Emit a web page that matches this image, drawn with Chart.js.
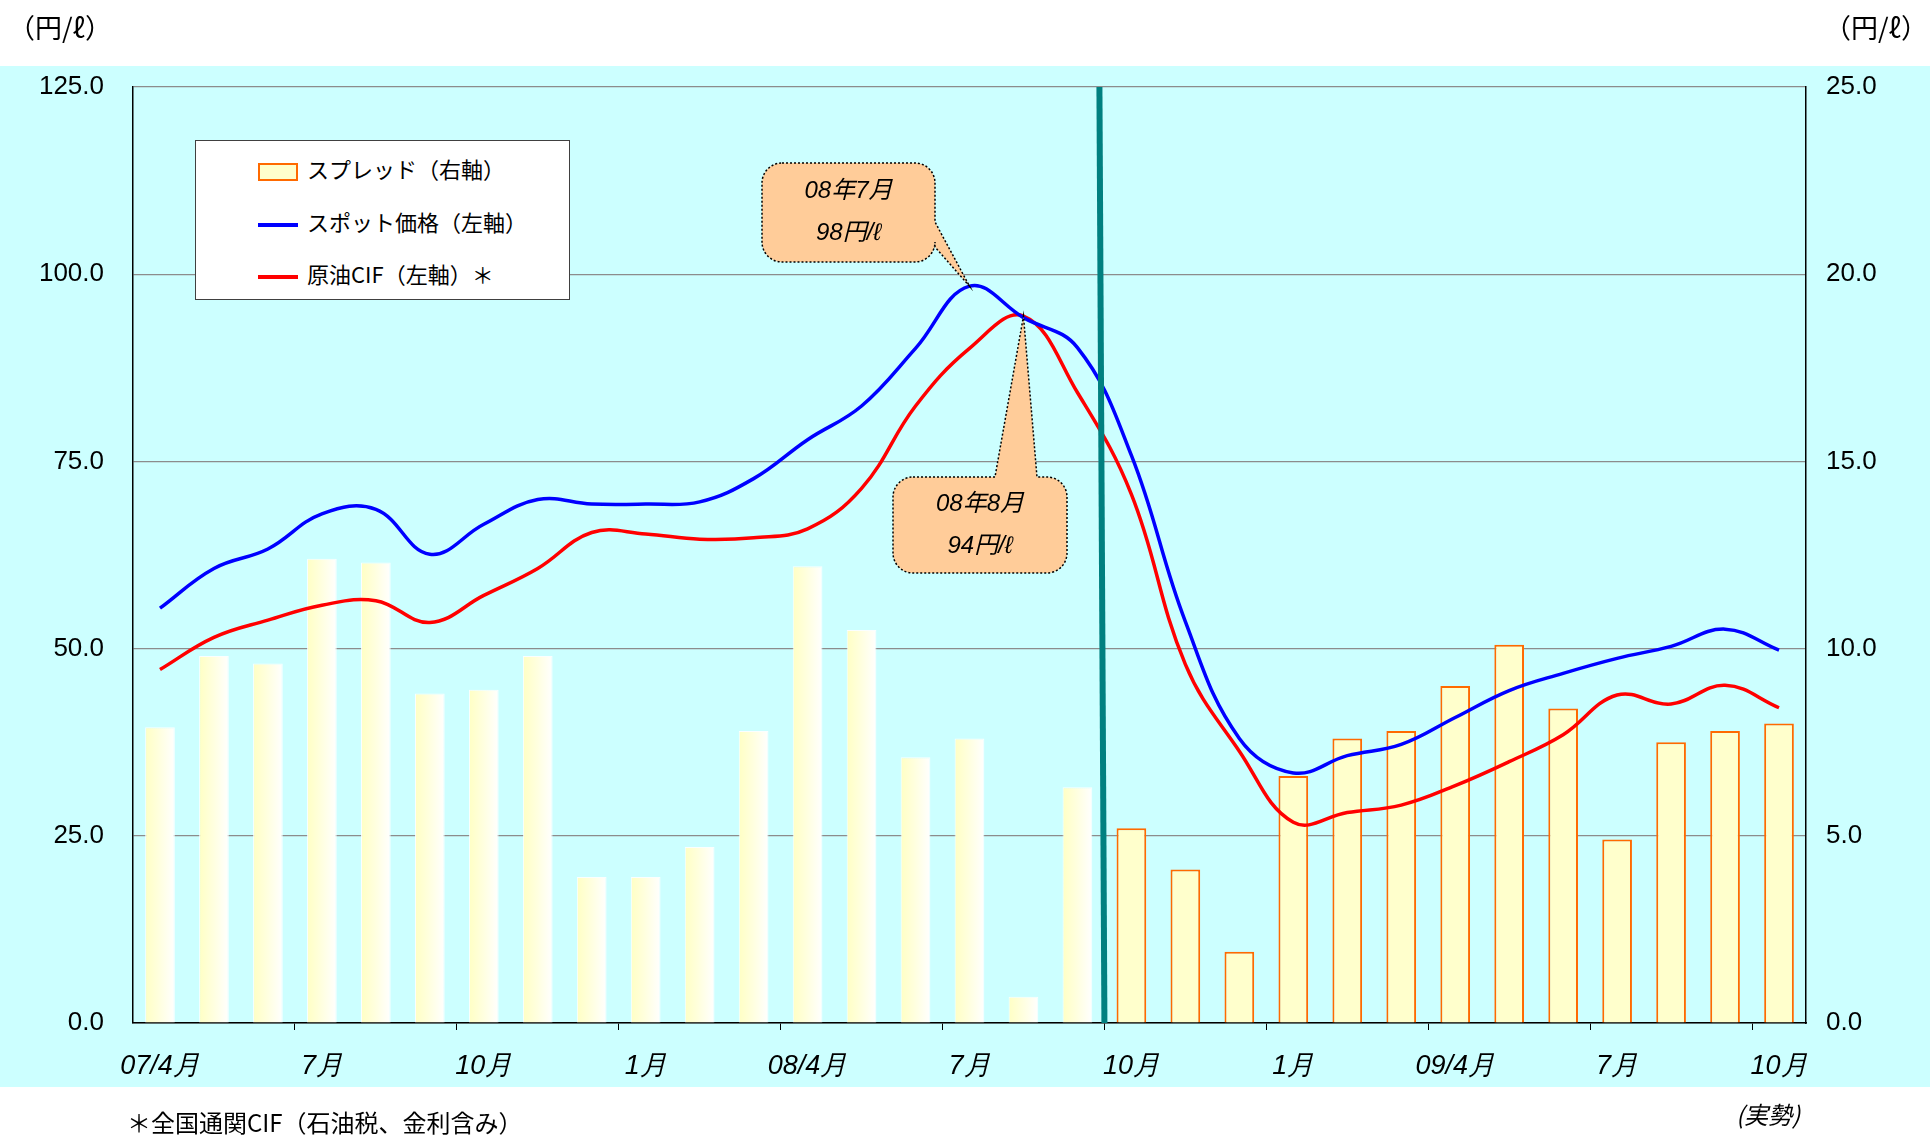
<!DOCTYPE html>
<html lang="ja">
<head>
<meta charset="utf-8">
<title>スプレッドとスポット価格</title>
<script src="https://cdn.jsdelivr.net/npm/chart.js@4.4.1/dist/chart.umd.min.js"></script>
<style>
  html, body { margin: 0; padding: 0; background: #fff; }
  #wrap { position: relative; width: 1930px; height: 1137px; overflow: hidden;
          font-family: "Noto Sans CJK JP", sans-serif; color: #000; }
  #band { position: absolute; left: 0; top: 66px; width: 1930px; height: 1021px; background: #CCFFFF; }
  #chart { position: absolute; left: 0; top: 0; }
  .unit { position: absolute; top: 8px; font-size: 27px; line-height: 38px; }
  #legend { position: absolute; left: 195px; top: 140px; width: 373px; height: 158px;
            background: #fff; border: 1.5px solid #404040; }
  #legend .item { position: absolute; left: 62px; height: 30px; line-height: 30px; font-size: 22px; white-space: nowrap; }
  #legend .sw { display: inline-block; width: 40px; vertical-align: middle; margin-right: 9px; box-sizing: border-box; }
  #note { position: absolute; left: 127px; top: 1106px; font-size: 24px; line-height: 32px; }
  #jisei { position: absolute; left: 1736px; top: 1098px; font-size: 24px; line-height: 32px; font-style: italic; }
</style>
</head>
<body>
<div id="wrap">
  <div id="band"></div>
  <canvas id="chart" width="1930" height="1137"></canvas>
  <div class="unit" style="left:8px">（円/ℓ）</div>
  <div class="unit" style="left:1824px">（円/ℓ）</div>
  <div id="legend"></div>
  <div id="note">＊全国通関CIF（石油税、金利含み）</div>
  <div id="jisei">(実勢)</div>
</div>
<script>
// 07/4月 〜 09/10月 の月次
const months = ['07/4月', '5月', '6月', '7月', '8月', '9月', '10月', '11月', '12月', '1月', '2月', '3月',
                '08/4月', '5月', '6月', '7月', '8月', '9月', '10月', '11月', '12月', '1月', '2月', '3月',
                '09/4月', '5月', '6月', '7月', '8月', '9月', '10月'];

// スプレッド（右軸, 円/ℓ）
const spread = [7.9, 9.8, 9.6, 12.4, 12.3, 8.8, 8.9, 9.8, 3.9, 3.9, 4.7, 7.8,
                12.2, 10.5, 7.1, 7.6, 0.7, 6.3, 5.2, 4.1, 1.9, 6.6, 7.6, 7.8,
                9.0, 10.1, 8.4, 4.9, 7.5, 7.8, 8.0];

// スポット価格（左軸, 円/ℓ）
const spot = [55.4, 60.7, 63.3, 68.0, 68.6, 62.6, 66.6, 69.9, 69.3, 69.3, 69.6, 72.7,
              77.9, 82.4, 90.1, 98.4, 94.2, 90.2, 75.8, 53.6, 38.0, 33.4, 35.7, 37.2,
              40.8, 44.4, 46.7, 48.7, 50.3, 52.6, 49.8];

// 原油CIF（左軸, 円/ℓ）
const cif = [47.2, 51.5, 53.8, 55.8, 56.4, 53.5, 57.1, 60.7, 65.5, 65.3, 64.6, 64.8,
             66.0, 71.4, 82.4, 90.1, 94.4, 84.2, 70.6, 47.9, 36.3, 26.8, 28.1, 29.1,
             31.7, 34.9, 38.5, 43.8, 42.6, 45.1, 42.1];

const seriesNames = ['スプレッド（右軸）', 'スポット価格（左軸）', '原油CIF（左軸）＊'];
const leftTicks = [0, 25, 50, 75, 100, 125];
const rightTicks = [0, 5, 10, 15, 20, 25];

// 10月から実勢
const actualStart = 18;

// 吹き出し
const notes = [
  { text: ['08年7月', '98円/ℓ'], ds: 1, idx: 15, box: [762, 163, 935, 262], side: 'right', base: [222, 247] },
  { text: ['08年8月', '94円/ℓ'], ds: 2, idx: 16, box: [893, 477, 1067, 573], side: 'top', base: [995, 1037] }
];

const numFont = '"Liberation Sans Narrow", "Liberation Sans", sans-serif';
const jpFont = '"Noto Sans CJK JP", sans-serif';

// 凡例
const legendEl = document.getElementById('legend');
const swatches = [
  'height:18px;background:#FFFFCC;border:2px solid #FF6A00;',
  'height:4px;background:#0000FF;',
  'height:4px;background:#FF0000;'
];
[12, 65, 117].forEach((top, i) => {
  const d = document.createElement('div');
  d.className = 'item';
  d.style.top = top + 'px';
  d.innerHTML = '<span class="sw" style="' + swatches[i] + '"></span>' + seriesNames[i];
  legendEl.appendChild(d);
});

function barFill(ctx) {
  const i = ctx.dataIndex;
  const chart = ctx.chart;
  if (i >= actualStart || !chart.chartArea) return '#FFFFCC';
  const xs = chart.scales.x;
  const cx = xs.getPixelForValue(i);
  const w = xs.width / months.length * 0.55;
  const g = chart.ctx.createLinearGradient(cx - w / 2, 0, cx + w / 2, 0);
  g.addColorStop(0, '#FFFFC4');
  g.addColorStop(0.45, '#FFFFDD');
  g.addColorStop(1, '#FFFFFF');
  return g;
}

const extras = {
  id: 'extras',
  afterDatasetsDraw(chart) {
    const c = chart.ctx;
    const xs = chart.scales.x;
    const area = chart.chartArea;

    // 実勢との境目
    const bx = (xs.getPixelForValue(actualStart - 1) + xs.getPixelForValue(actualStart)) / 2;
    c.save();
    c.strokeStyle = '#008080';
    c.lineWidth = 6;
    c.beginPath();
    c.moveTo(bx - 5, area.top);
    c.lineTo(bx, area.bottom);
    c.stroke();
    c.restore();

    notes.forEach(n => {
      const pt = chart.getDatasetMeta(n.ds).data[n.idx];
      const [l, t, r, b] = n.box;
      const rad = 20;
      c.save();
      c.beginPath();
      c.moveTo(l + rad, t);
      if (n.side === 'top') {
        c.lineTo(n.base[0], t);
        c.lineTo(pt.x, pt.y);
        c.lineTo(n.base[1], t);
      }
      c.lineTo(r - rad, t);
      c.arcTo(r, t, r, t + rad, rad);
      if (n.side === 'right') {
        c.lineTo(r, n.base[0]);
        c.lineTo(pt.x, pt.y);
        c.lineTo(r, n.base[1]);
      }
      c.lineTo(r, b - rad);
      c.arcTo(r, b, r - rad, b, rad);
      c.lineTo(l + rad, b);
      c.arcTo(l, b, l, b - rad, rad);
      c.lineTo(l, t + rad);
      c.arcTo(l, t, l + rad, t, rad);
      c.closePath();
      c.fillStyle = '#FFCC99';
      c.fill();
      c.setLineDash([2, 2]);
      c.lineWidth = 1.5;
      c.strokeStyle = '#000';
      c.stroke();
      c.setLineDash([]);
      c.fillStyle = '#000';
      c.font = 'italic 24px "Liberation Sans", ' + jpFont;
      c.textAlign = 'center';
      c.textBaseline = 'middle';
      const cx = (l + r) / 2, cy = (t + b) / 2;
      c.fillText(n.text[0], cx, cy - 21);
      c.fillText(n.text[1], cx, cy + 21);
      c.restore();
    });
  }
};

new Chart(document.getElementById('chart'), {
  data: {
    labels: months,
    datasets: [
      {
        type: 'bar',
        label: seriesNames[0],
        data: spread,
        yAxisID: 'y1',
        order: 3,
        backgroundColor: barFill,
        borderColor: ctx => ctx.dataIndex >= actualStart ? '#FF6A00' : 'rgba(255,255,255,0.9)',
        borderWidth: ctx => ctx.dataIndex >= actualStart ? 2 : 1,
        borderSkipped: 'bottom',
        barPercentage: 0.55,
        categoryPercentage: 1.0
      },
      {
        type: 'line',
        label: seriesNames[1],
        data: spot,
        yAxisID: 'y',
        order: 1,
        borderColor: '#0000FF',
        borderWidth: 3.5,
        pointRadius: 0,
        tension: 0.4,
        fill: false
      },
      {
        type: 'line',
        label: seriesNames[2],
        data: cif,
        yAxisID: 'y',
        order: 2,
        borderColor: '#FF0000',
        borderWidth: 3.5,
        pointRadius: 0,
        tension: 0.4,
        fill: false
      }
    ]
  },
  options: {
    responsive: false,
    animation: false,
    devicePixelRatio: 1,
    layout: { padding: { top: 87, bottom: 0, left: 0, right: 0 } },
    plugins: {
      legend: { display: false },
      tooltip: { enabled: false }
    },
    scales: {
      x: {
        type: 'category',
        offset: true,
        afterFit: s => { s.height = 114; },
        border: { display: true, color: '#000', width: 1.5 },
        grid: {
          offset: true,
          drawOnChartArea: false,
          drawTicks: true,
          tickLength: 7,
          color: ctx => (ctx.index > 0 && ctx.index % 3 === 0) ? '#000' : 'rgba(0,0,0,0)'
        },
        ticks: {
          autoSkip: false,
          maxRotation: 0,
          padding: 20,
          color: '#000',
          font: { family: numFont, size: 27, style: 'italic' },
          callback: (v, i) => i % 3 === 0 ? months[i] : ''
        }
      },
      y: {
        position: 'left',
        min: 0,
        max: 125,
        afterFit: s => { s.width = 133; },
        afterBuildTicks: s => { s.ticks = leftTicks.map(v => ({ value: v })); },
        border: { display: true, color: '#000', width: 1.5 },
        grid: { color: '#8C8C8C', lineWidth: 1.2, drawTicks: false },
        ticks: {
          padding: 29,
          color: '#000',
          font: { family: numFont, size: 26 },
          callback: v => v.toFixed(1)
        }
      },
      y1: {
        position: 'right',
        min: 0,
        max: 25,
        afterFit: s => { s.width = 124; },
        afterBuildTicks: s => { s.ticks = rightTicks.map(v => ({ value: v })); },
        border: { display: true, color: '#000', width: 1.5 },
        grid: { drawOnChartArea: false, drawTicks: false },
        ticks: {
          padding: 20,
          color: '#000',
          font: { family: numFont, size: 26 },
          callback: v => v.toFixed(1)
        }
      }
    }
  },
  plugins: [extras]
});
</script>
</body>
</html>
